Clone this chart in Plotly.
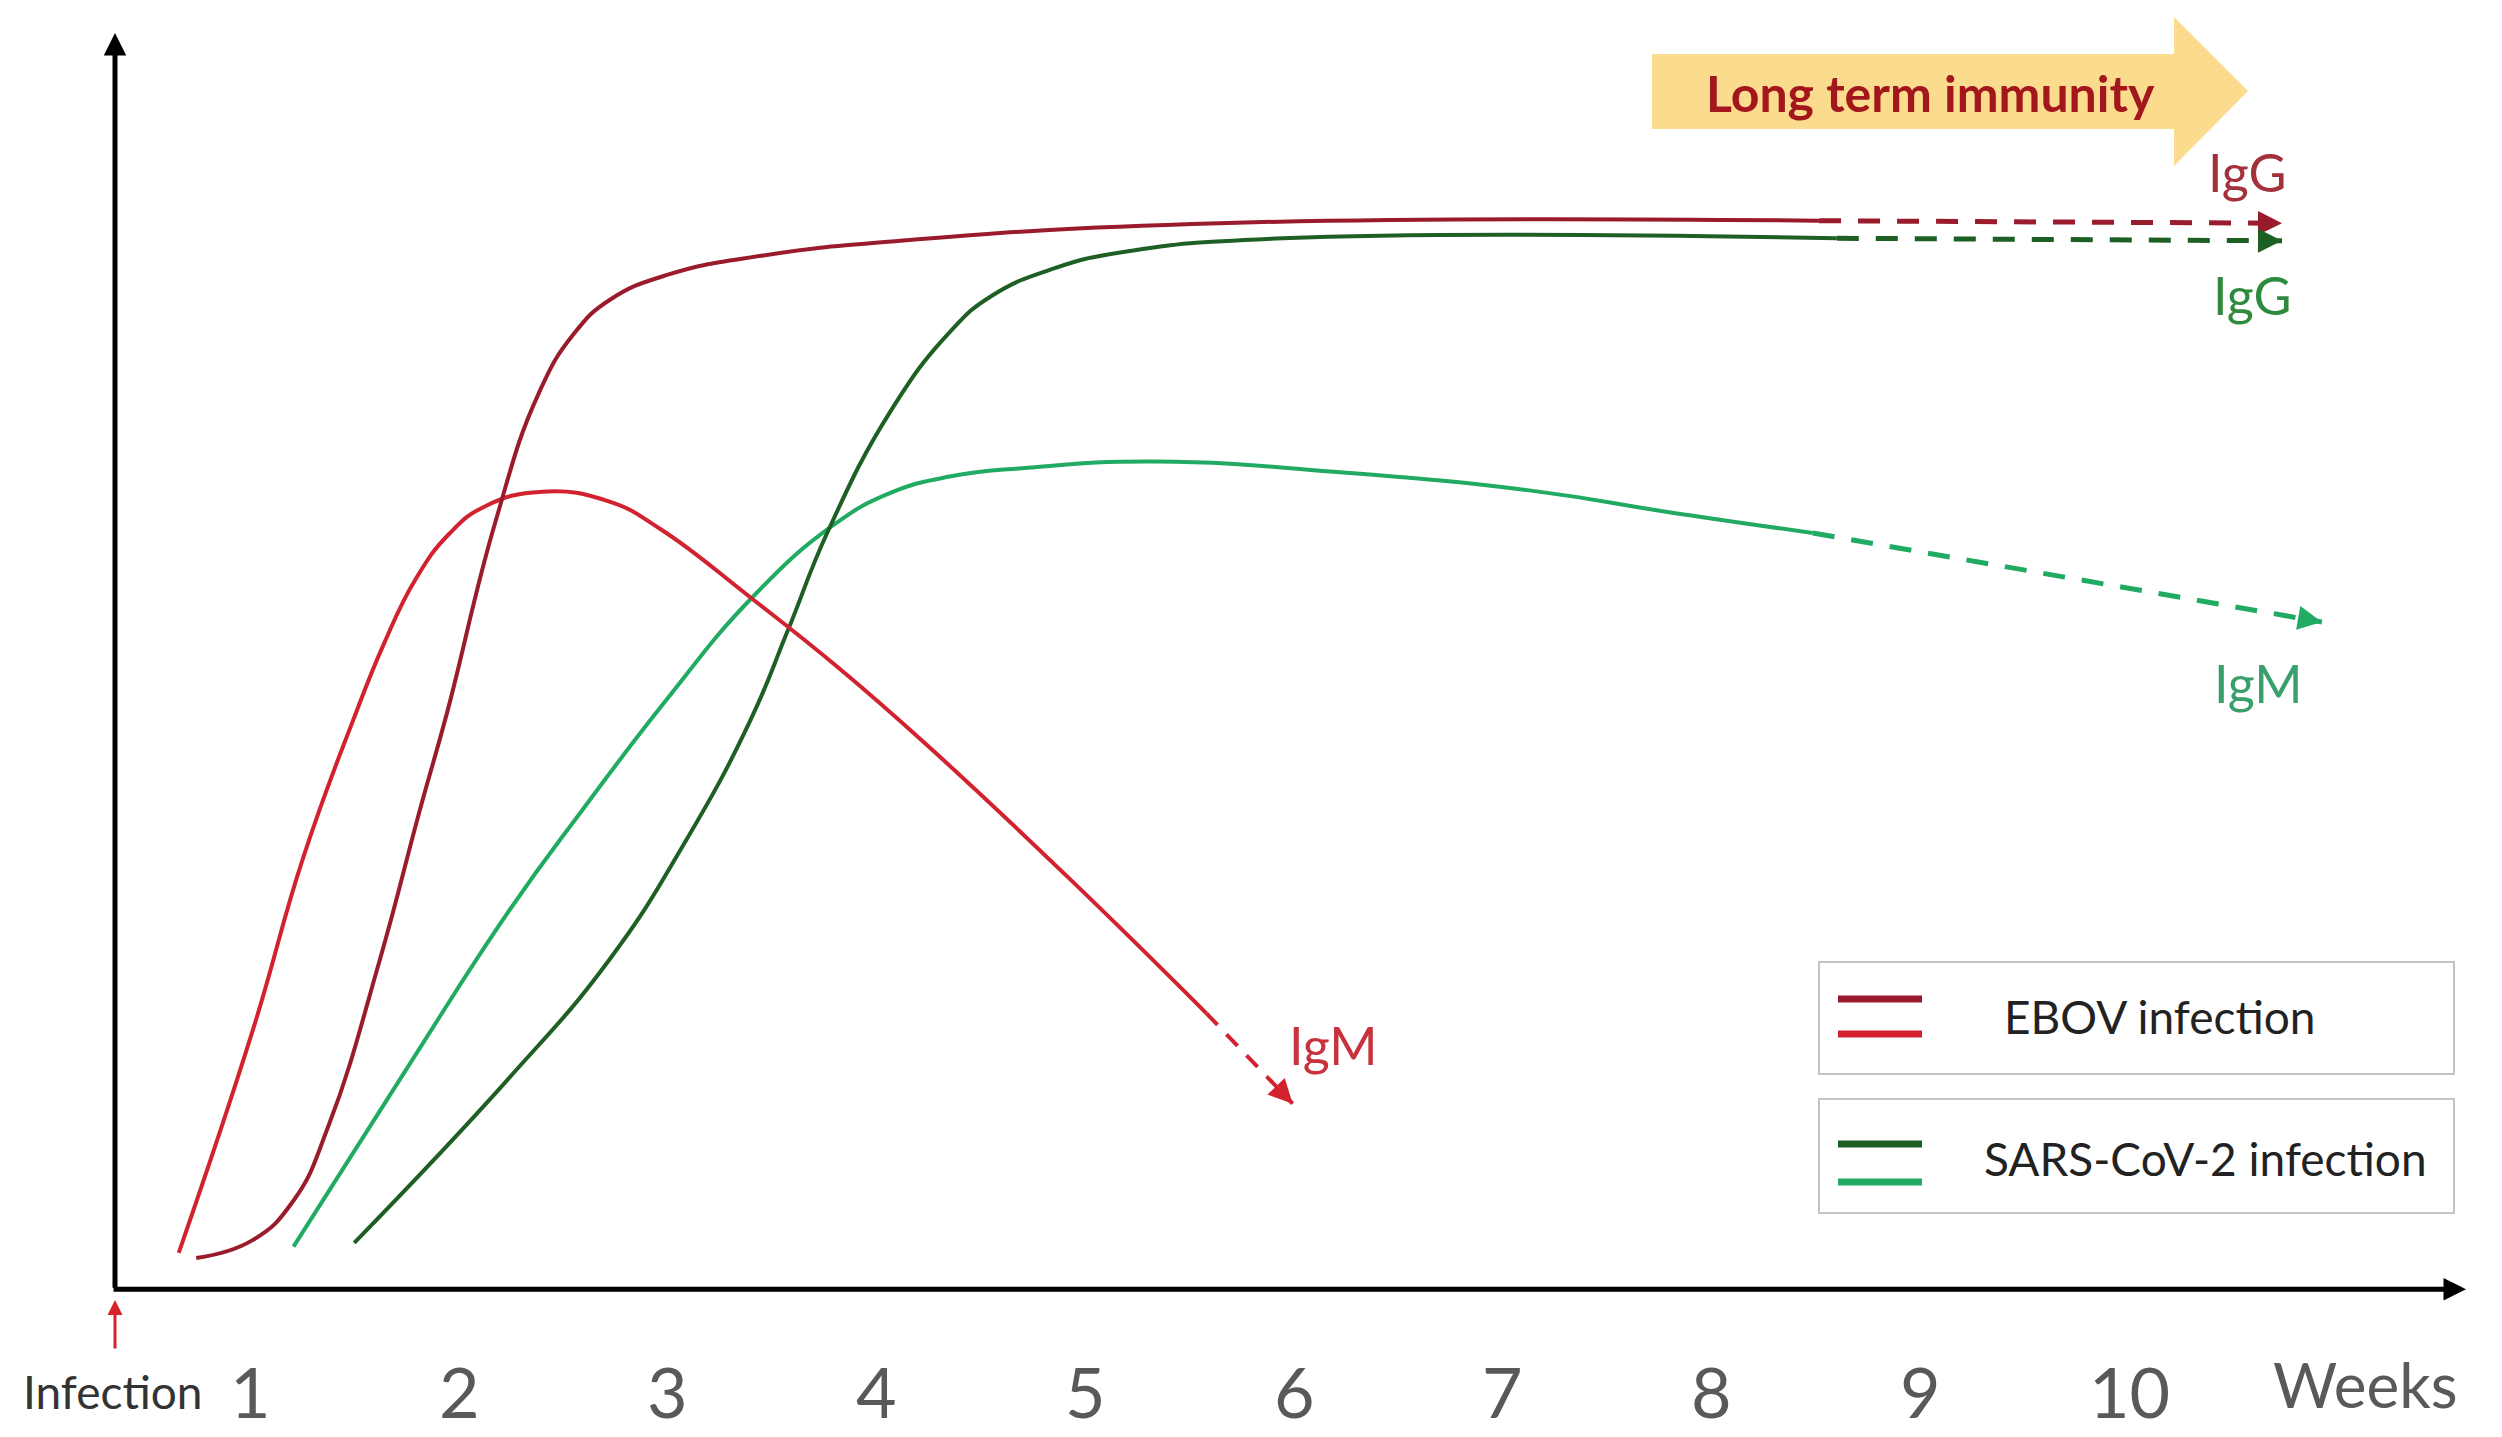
import math
import plotly.graph_objects as go

# ---------------- data (weeks after infection, relative antibody level 0-100) -------------
tick_weeks = [1, 2, 3, 4, 5, 6, 7, 8, 9, 10]
tick_labels = ["1", "2", "3", "4", "5", "6", "7", "8", "9", "10"]

ebov_igm_weeks = [0.656, 1.008, 1.252, 1.490, 1.640, 1.790, 1.950, 2.120, 2.399, 2.720,
                  2.965, 3.400, 3.821, 4.234, 4.920, 5.580]
ebov_igm_level = [2.9, 20.5, 34.4, 45.3, 51.5, 56.6, 60.2, 62.4, 63.6, 62.8,
                  60.6, 55.1, 49.5, 43.5, 32.8, 22.0]
ebov_igm_trend_weeks = [5.580, 5.993]
ebov_igm_trend_level = [22.0, 14.8]

ebov_igg_weeks = [0.740, 1.008, 1.207, 1.375, 1.620, 1.811, 1.942, 2.170, 2.377, 2.550,
                  2.722, 3.000, 3.446, 4.113, 5.641, 8.515]
ebov_igg_level = [2.5, 3.9, 7.1, 13.1, 26.3, 38.2, 46.0, 61.0, 71.3, 76.2,
                  78.9, 80.9, 82.4, 83.6, 85.0, 85.2]
ebov_igg_trend_weeks = [8.515, 10.733]
ebov_igg_trend_level = [85.2, 85.0]

sars_igm_weeks = [1.206, 1.741, 2.231, 2.598, 2.988, 3.400, 3.790, 4.066, 4.349, 4.723,
                  5.335, 6.252, 7.170, 7.781, 8.485]
sars_igm_level = [3.4, 17.4, 30.0, 38.4, 46.9, 55.1, 60.9, 63.5, 64.8, 65.5,
                  66.0, 65.1, 63.6, 62.0, 60.3]
sars_igm_trend_weeks = [8.485, 10.924]
sars_igm_trend_level = [60.3, 53.2]

sars_igg_weeks = [1.497, 2.231, 2.720, 3.087, 3.393, 3.576, 3.768, 4.066, 4.349, 4.550,
                  4.850, 5.182, 5.947, 8.600]
sars_igg_level = [3.7, 16.7, 26.3, 35.8, 45.3, 52.6, 60.5, 70.0, 76.3, 79.2,
                  81.4, 82.7, 83.8, 83.8]
sars_igg_trend_weeks = [8.600, 10.733]
sars_igg_trend_level = [83.8, 83.6]

# ---------------- layout helpers ----------------
W, H = 2502, 1437
X0_PX, WEEK_PX = 41.8, 208.72
Y0_PX, LEVEL_PX = 1289.3, 12.542


def px_x(px):
    return (px - X0_PX) / WEEK_PX


def px_y(py):
    return (Y0_PX - py) / LEVEL_PX


C_EBOV_IGG = "#9A1B2B"
C_EBOV_IGM = "#D2222F"
C_SARS_IGG = "#1E5F24"
C_SARS_IGM = "#20AA62"
FONT = "Lato, 'Open Sans', sans-serif"

fig = go.Figure()


def add_curve(xs, ys, color, dash=None, width=4):
    fig.add_trace(go.Scatter(
        x=xs, y=ys, mode="lines",
        line=dict(color=color, width=width, shape="spline", smoothing=1.3,
                  dash=dash if dash else "solid"),
        hoverinfo="skip", showlegend=False))


def add_arrow_end(xs, ys, color):
    # small arrowhead at the end of a dashed trend line (tail offset in screen pixels)
    dx = (xs[-1] - xs[-2]) * WEEK_PX
    dy = -(ys[-1] - ys[-2]) * LEVEL_PX
    n = math.hypot(dx, dy)
    L = 14
    fig.add_annotation(x=xs[-1], y=ys[-1], ax=-dx / n * L, ay=-dy / n * L,
                       xref="x", yref="y", text="",
                       showarrow=True, arrowhead=2, arrowsize=1.2, arrowwidth=4,
                       arrowcolor=color, standoff=0)


add_curve(sars_igm_weeks, sars_igm_level, C_SARS_IGM)
add_curve(sars_igg_weeks, sars_igg_level, C_SARS_IGG)
add_curve(ebov_igm_weeks, ebov_igm_level, C_EBOV_IGM)
add_curve(ebov_igg_weeks, ebov_igg_level, C_EBOV_IGG)

dash = "22px,17px"
add_curve(ebov_igm_trend_weeks, ebov_igm_trend_level, C_EBOV_IGM, "16px,13px", 4)
add_curve(ebov_igg_trend_weeks, ebov_igg_trend_level, C_EBOV_IGG, dash, 5)
add_curve(sars_igg_trend_weeks, sars_igg_trend_level, C_SARS_IGG, dash, 5)
add_curve(sars_igm_trend_weeks, sars_igm_trend_level, C_SARS_IGM, dash, 5)
add_arrow_end(ebov_igm_trend_weeks, ebov_igm_trend_level, C_EBOV_IGM)
add_arrow_end(ebov_igg_trend_weeks, ebov_igg_trend_level, C_EBOV_IGG)
add_arrow_end(sars_igg_trend_weeks, sars_igg_trend_level, C_SARS_IGG)
add_arrow_end(sars_igm_trend_weeks, sars_igm_trend_level, C_SARS_IGM)

# ---------------- axes drawn as arrows ----------------
ax_x = px_x(115)
fig.add_annotation(x=ax_x, y=px_y(33), ax=ax_x, ay=0, xref="x", yref="y", axref="x", ayref="y",
                   text="", showarrow=True, arrowhead=2, arrowsize=0.9, arrowwidth=5,
                   arrowcolor="black", standoff=0)
fig.add_annotation(x=px_x(2466), y=0, ax=px_x(112), ay=0, xref="x", yref="y", axref="x", ayref="y",
                   text="", showarrow=True, arrowhead=2, arrowsize=0.9, arrowwidth=5,
                   arrowcolor="black", standoff=0)
# infection arrow
fig.add_annotation(x=ax_x, y=px_y(1300), ax=ax_x, ay=px_y(1350), xref="x", yref="y",
                   axref="x", ayref="y", text="", showarrow=True, arrowhead=2, arrowsize=1,
                   arrowwidth=3, arrowcolor="#D8232A", standoff=0)

# tick labels
for wk, lab in zip(tick_weeks, tick_labels):
    fig.add_annotation(x=wk, y=px_y(1391), text=lab, showarrow=False, xref="x", yref="y",
                       font=dict(family=FONT, size=70, color="#595959"))
fig.add_annotation(x=px_x(2365), y=px_y(1384), text="Weeks", showarrow=False,
                   font=dict(family=FONT, size=62, color="#595959"))
fig.add_annotation(x=px_x(113), y=px_y(1391), text="Infection", showarrow=False,
                   font=dict(family=FONT, size=46, color="#333333"))

# curve labels
fig.add_annotation(x=px_x(2247), y=px_y(172), text="IgG", showarrow=False,
                   font=dict(family=FONT, size=52, color="#A3303A"))
fig.add_annotation(x=px_x(2252), y=px_y(295), text="IgG", showarrow=False,
                   font=dict(family=FONT, size=52, color="#2E8A3C"))
fig.add_annotation(x=px_x(2258), y=px_y(683), text="IgM", showarrow=False,
                   font=dict(family=FONT, size=52, color="#39A06C"))
fig.add_annotation(x=px_x(1333), y=px_y(1045), text="IgM", showarrow=False,
                   font=dict(family=FONT, size=52, color="#C8323C"))

# ---------------- long-term immunity arrow ----------------
arrow_px = [(1652, 54), (2174, 54), (2174, 17), (2248, 91), (2174, 166), (2174, 129), (1652, 129)]
path = "M " + " L ".join(f"{px_x(a)},{px_y(b)}" for a, b in arrow_px) + " Z"
fig.add_shape(type="path", path=path, xref="x", yref="y", fillcolor="#FBDC8F",
              line=dict(width=0), layer="below")
fig.add_annotation(x=px_x(1930), y=px_y(93), text="<b>Long term immunity</b>", showarrow=False,
                   font=dict(family=FONT, size=50, color="#A3171C"))

# ---------------- legend boxes ----------------
for (y0, y1) in [(962, 1074), (1099, 1213)]:
    fig.add_shape(type="rect", xref="x", yref="y", x0=px_x(1819), x1=px_x(2454),
                  y0=px_y(y1), y1=px_y(y0), line=dict(color="#C4C4C4", width=2),
                  fillcolor="white", layer="below")
for py, col in [(999, C_EBOV_IGG), (1034, C_EBOV_IGM), (1144, C_SARS_IGG), (1182, C_SARS_IGM)]:
    fig.add_shape(type="line", xref="x", yref="y", x0=px_x(1838), x1=px_x(1922),
                  y0=px_y(py), y1=px_y(py), line=dict(color=col, width=7))
fig.add_annotation(x=px_x(2160), y=px_y(1016), text="EBOV infection", showarrow=False,
                   font=dict(family=FONT, size=46, color="#222222"))
fig.add_annotation(x=px_x(2205), y=px_y(1158), text="SARS-CoV-2 infection", showarrow=False,
                   font=dict(family=FONT, size=46, color="#222222"))

fig.update_layout(
    width=W, height=H, autosize=False,
    margin=dict(l=0, r=0, t=0, b=0, pad=0),
    paper_bgcolor="white", plot_bgcolor="white",
    showlegend=False,
    xaxis=dict(range=[px_x(0), px_x(W)], visible=False, fixedrange=True),
    yaxis=dict(range=[px_y(H), px_y(0)], visible=False, fixedrange=True),
)

fig.write_html("out.html", include_plotlyjs=True,
               config={"displayModeBar": False},
               post_script="document.body.style.margin='0';document.body.style.overflow='hidden';")
